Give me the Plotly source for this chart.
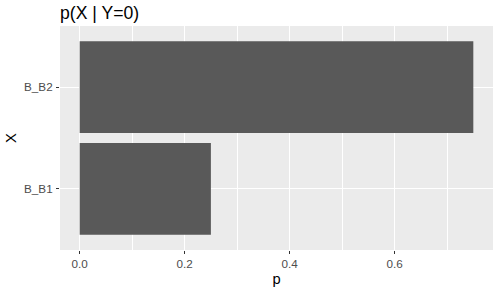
import plotly.graph_objects as go

categories = ["B_B1", "B_B2"]
values = [0.25, 0.75]
xticks = [0.0, 0.2, 0.4, 0.6]
xticktext = ["0.0", "0.2", "0.4", "0.6"]

fig = go.Figure()
fig.add_trace(go.Bar(
    x=values, y=categories, orientation="h",
    marker=dict(color="#595959", line=dict(width=0)),
    width=0.9,
))

font = "Liberation Sans, Arial, sans-serif"
fig.update_layout(
    width=501, height=292,
    margin=dict(l=60, r=8, t=26, b=40),
    paper_bgcolor="white",
    plot_bgcolor="#EBEBEB",
    showlegend=False,
    font=dict(family=font),
    title=dict(text="p(X | Y=0)", x=60/501, xanchor="left", y=1-12.5/292, yanchor="middle",
               font=dict(size=17.6, color="black", family=font)),
    xaxis=dict(
        range=[-0.0375, 0.7875],
        tickvals=xticks, ticktext=xticktext,
        showgrid=True, gridcolor="white", gridwidth=1.1,
        minor=dict(tickvals=[0.1, 0.3, 0.5, 0.7], showgrid=True, gridcolor="white", gridwidth=0.5, ticks=""),
        ticks="outside", ticklen=3, tickcolor="#333333", tickwidth=1,
        tickfont=dict(size=11.7, color="#4D4D4D"),
        zeroline=False, showline=False,
        title=dict(text="p", font=dict(size=14.7, color="black"), standoff=4),
    ),
    yaxis=dict(
        range=[-0.6, 1.6],
        categoryorder="array", categoryarray=categories,
        showgrid=True, gridcolor="white", gridwidth=1.1,
        ticks="outside", ticklen=3, tickcolor="#333333", tickwidth=1,
        ticklabelstandoff=1,
        tickfont=dict(size=11.7, color="#4D4D4D"),
        zeroline=False, showline=False,
        title=dict(text="X", font=dict(size=14.7, color="black"), standoff=3),
    ),
)

fig.write_html("out.html")
